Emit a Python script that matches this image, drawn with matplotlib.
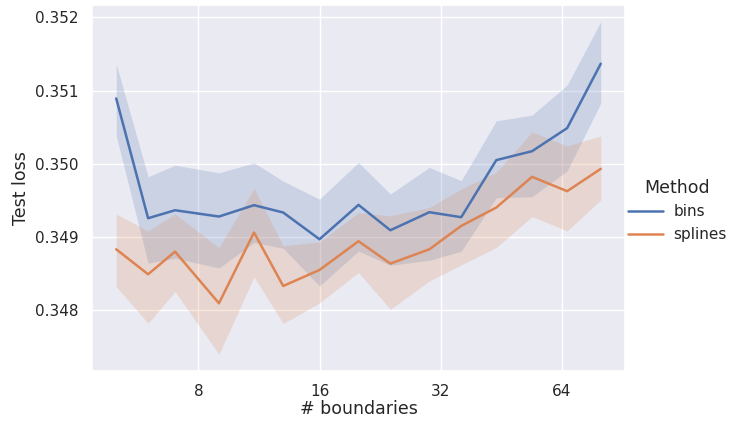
import matplotlib

matplotlib.use("Agg")
import matplotlib.pyplot as plt
import seaborn as sns

# number of boundaries (x axis, log2 scale)
boundaries = [5, 6, 7, 9, 11, 13, 16, 20, 24, 30, 36, 44, 54, 66, 80]

# bins: mean test loss and confidence band
bins_mean = [0.350893, 0.349258, 0.349367, 0.349281, 0.349436, 0.349336, 0.348971, 0.349440,
             0.349094, 0.349340, 0.349272, 0.350051, 0.350173, 0.350488, 0.351367]
bins_hi = [0.351362, 0.349823, 0.349982, 0.349877, 0.350014, 0.349764, 0.349518, 0.350019,
           0.349589, 0.349951, 0.349770, 0.350587, 0.350665, 0.351075, 0.351941]
bins_lo = [0.350383, 0.348646, 0.348712, 0.348579, 0.348926, 0.348848, 0.348333, 0.348810,
           0.348616, 0.348684, 0.348807, 0.349537, 0.349552, 0.349905, 0.350829]

# splines: mean test loss and confidence band
splines_mean = [0.348834, 0.348493, 0.348802, 0.348097, 0.349063, 0.348333, 0.348552, 0.348944,
                0.348639, 0.348834, 0.349153, 0.349404, 0.349823, 0.349627, 0.349932]
splines_hi = [0.349315, 0.349085, 0.349315, 0.348858, 0.349664, 0.348880, 0.348935, 0.349332,
              0.349291, 0.349404, 0.349657, 0.349884, 0.350434, 0.350246, 0.350380]
splines_lo = [0.348325, 0.347824, 0.348257, 0.347400, 0.348458, 0.347820, 0.348102, 0.348516,
              0.348015, 0.348402, 0.348620, 0.348858, 0.349281, 0.349085, 0.349508]

x_ticks = [8, 16, 32, 64]

sns.set_theme()
blue, orange = sns.color_palette("deep")[:2]

W, H = 732, 421
fig = plt.figure(figsize=(W / 100, H / 100), dpi=100)
ax = fig.add_axes([92 / W, 1 - 371 / H, (625 - 92) / W, (371 - 5) / H])

series = [
    ("bins", bins_mean, bins_lo, bins_hi, blue),
    ("splines", splines_mean, splines_lo, splines_hi, orange),
]
for name, mean, lo, hi, col in series:
    ax.fill_between(boundaries, lo, hi, color=col, alpha=0.2, linewidth=0)
    ax.plot(boundaries, mean, color=col, lw=1.8, label=name)

ax.set_xscale("log", base=2)
ax.set_xticks(x_ticks)
ax.set_xticklabels([str(t) for t in x_ticks])
ax.minorticks_off()
ax.set_yticks([0.348, 0.349, 0.350, 0.351, 0.352])
ax.tick_params(axis="x", pad=3)
ax.set_xlabel("# boundaries", fontsize=12.5, labelpad=1)
ax.set_ylabel("Test loss", fontsize=12.5)

handles, labels = ax.get_legend_handles_labels()
leg = fig.legend(handles, labels, title="Method", loc="center left",
                 bbox_to_anchor=(614 / W, 0.5), frameon=False,
                 handlelength=2.3, handletextpad=0.7, fontsize=11, title_fontsize=12.5)

fig.savefig("out.png", dpi=100)
